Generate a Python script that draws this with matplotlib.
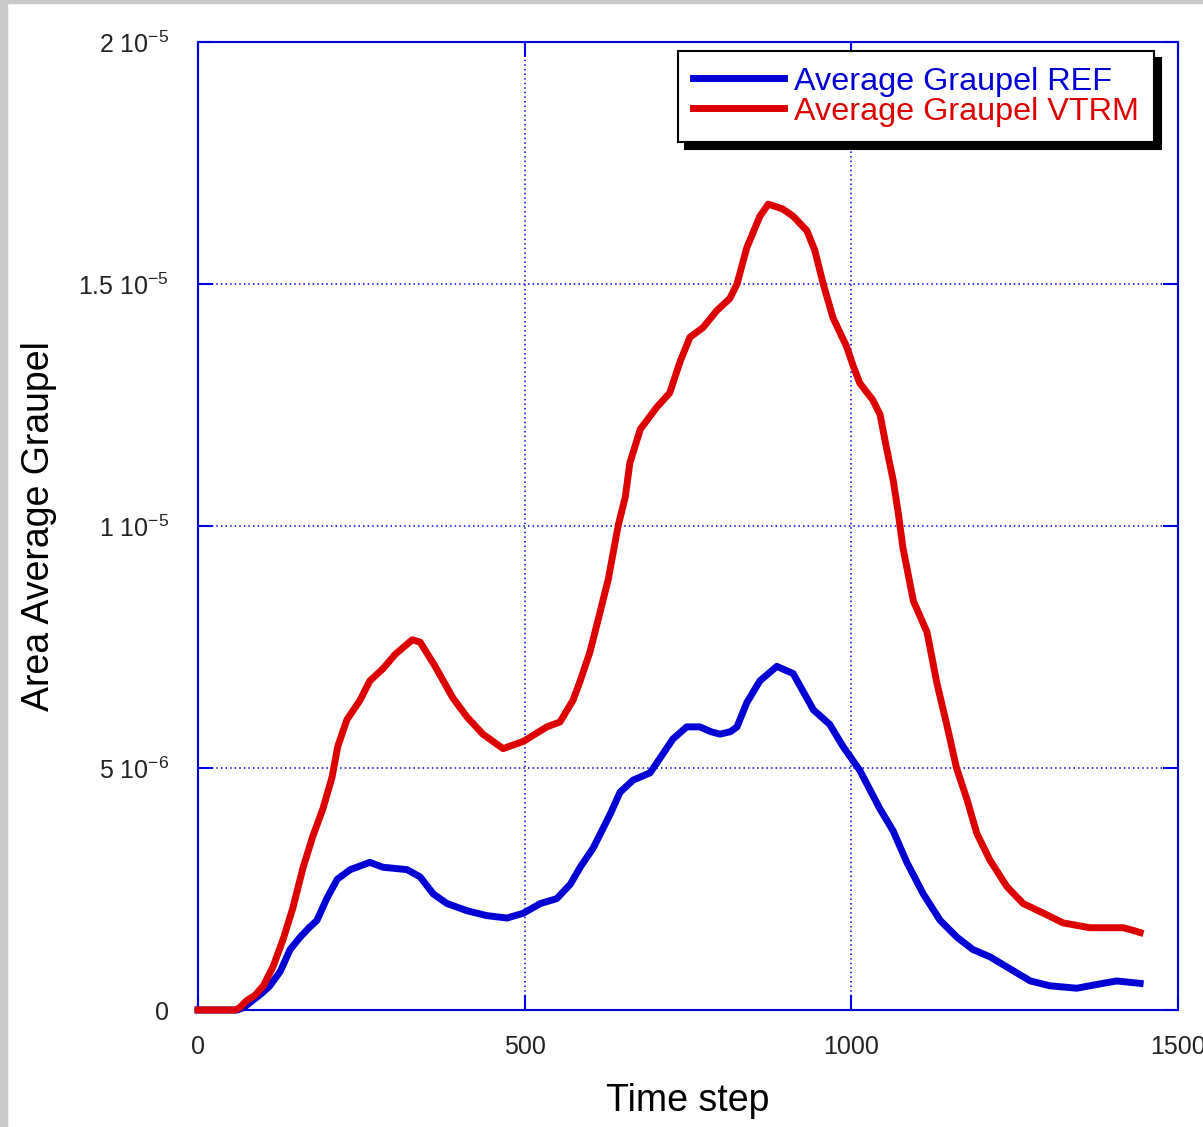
import matplotlib
matplotlib.use("Agg")
import matplotlib.pyplot as plt
import numpy as np
from matplotlib.patches import Rectangle

plt.rcParams["font.family"] = ["Liberation Sans", "DejaVu Sans"]

# Area average graupel (units of 1e-6)
ref_steps = [0, 49, 60, 70, 84, 98, 110, 126, 141, 156, 170, 182, 197, 213, 233, 263, 283,
             320, 340, 360, 381, 412, 442, 473, 498, 524, 549, 570, 585, 605, 631, 646, 666,
             692, 707, 727, 748, 768, 785, 799, 815, 825, 840, 860, 886, 911, 942, 967, 987,
             1013, 1044, 1064, 1085, 1110, 1136, 1162, 1186, 1212, 1243, 1274, 1304, 1345,
             1385, 1406, 1442]
ref_vals = [0.0, 0.0, 0.0, 0.05, 0.2, 0.35, 0.5, 0.8, 1.25, 1.5, 1.7, 1.85, 2.3, 2.7, 2.9,
            3.05, 2.95, 2.9, 2.75, 2.4, 2.2, 2.05, 1.95, 1.9, 2.0, 2.2, 2.3, 2.6, 2.95, 3.35,
            4.05, 4.5, 4.75, 4.9, 5.2, 5.6, 5.85, 5.85, 5.75, 5.7, 5.75, 5.85, 6.35, 6.8, 7.1,
            6.95, 6.2, 5.9, 5.45, 4.95, 4.15, 3.7, 3.05, 2.4, 1.85, 1.5, 1.25, 1.1, 0.85, 0.6,
            0.5, 0.45, 0.55, 0.6, 0.55]

vtrm_steps = [0, 57, 64, 75, 87, 100, 115, 130, 145, 161, 176, 191, 205, 214, 228, 248, 263,
              283, 302, 328, 340, 363, 390, 412, 436, 467, 498, 534, 554, 574, 585, 600, 615,
              628, 643, 654, 661, 677, 702, 722, 738, 753, 773, 794, 814, 825, 840, 860, 873,
              895, 911, 932, 944, 957, 972, 993, 1003, 1013, 1033, 1044, 1054, 1064, 1072,
              1079, 1095, 1116, 1131, 1146, 1161, 1177, 1192, 1212, 1238, 1263, 1294, 1324,
              1365, 1416, 1430, 1442]
vtrm_vals = [0.0, 0.0, 0.05, 0.2, 0.3, 0.5, 0.9, 1.45, 2.1, 2.95, 3.6, 4.15, 4.8, 5.45, 6.0,
             6.4, 6.8, 7.05, 7.35, 7.65, 7.6, 7.1, 6.45, 6.05, 5.7, 5.4, 5.55, 5.85, 5.95, 6.4,
             6.8, 7.4, 8.2, 8.9, 10.0, 10.6, 11.3, 12.0, 12.45, 12.75, 13.4, 13.9, 14.1, 14.45,
             14.7, 15.0, 15.75, 16.4, 16.65, 16.55, 16.4, 16.1, 15.7, 15.0, 14.3, 13.7, 13.3,
             12.95, 12.6, 12.3, 11.6, 10.95, 10.25, 9.55, 8.45, 7.8, 6.75, 5.9, 5.0, 4.35,
             3.65, 3.1, 2.55, 2.2, 2.0, 1.8, 1.7, 1.7, 1.65, 1.6]

x_ticks = [0, 500, 1000, 1500]
y_ticks = [0, 5e-6, 1e-5, 1.5e-5, 2e-5]
y_tick_labels = ["0",
                 r"5 10$^{\mathregular{-6}}$",
                 r"1 10$^{\mathregular{-5}}$",
                 r"1.5 10$^{\mathregular{-5}}$",
                 r"2 10$^{\mathregular{-5}}$"]

axis_blue = "#0000e6"
ref_color = "#0000d4"
vtrm_color = "#dd0000"

fig = plt.figure(figsize=(12.03, 11.27), dpi=100)
fig.patch.set_facecolor("white")
fig.add_artist(Rectangle((0, 0), 7 / 1203, 1, transform=fig.transFigure, color="#c9c9c9", zorder=0))
fig.add_artist(Rectangle((0, 1 - 3 / 1127), 1, 3 / 1127, transform=fig.transFigure, color="#c9c9c9", zorder=0))

ax = fig.add_axes([198 / 1203, 117 / 1127, 980 / 1203, 968 / 1127])

ax.plot(ref_steps, np.array(ref_vals) * 1e-6, color=ref_color, lw=5, label="Average Graupel REF",
        clip_on=False, zorder=3)
ax.plot(vtrm_steps, np.array(vtrm_vals) * 1e-6, color=vtrm_color, lw=5, label="Average Graupel VTRM",
        clip_on=False, zorder=3)

ax.set_xlim(0, 1500)
ax.set_ylim(0, 2e-5)
ax.set_xticks(x_ticks)
ax.set_yticks(y_ticks)
ax.set_yticklabels(y_tick_labels)

for spine in ax.spines.values():
    spine.set_color(axis_blue)
    spine.set_linewidth(1.5)

ax.grid(True, color=axis_blue, linestyle=(0, (1, 2)), linewidth=1.1)
ax.tick_params(direction="in", length=11, width=1.5, color=axis_blue, top=True, right=True,
               labelsize=18, labelcolor="#222222")
ax.tick_params(axis="x", pad=18)
ax.tick_params(axis="y", pad=21)

ax.set_xlabel("Time step", fontsize=27, labelpad=17)
ax.set_ylabel("Area Average Graupel", fontsize=27, labelpad=15)

leg = ax.legend(loc="upper right", bbox_to_anchor=((1154 - 198) / 980, (1010 - 51) / 968),
                borderaxespad=0, fontsize=23.3, fancybox=False, edgecolor="black", framealpha=1,
                shadow={"ox": 5, "oy": -5, "facecolor": "black", "edgecolor": "black", "alpha": 1},
                handlelength=2.8, handletextpad=0.3, labelspacing=0.0, borderpad=0.48)
leg.get_frame().set_linewidth(1.5)
for text, line in zip(leg.get_texts(), leg.get_lines()):
    text.set_color(line.get_color())

fig.savefig("out.png", dpi=100)
